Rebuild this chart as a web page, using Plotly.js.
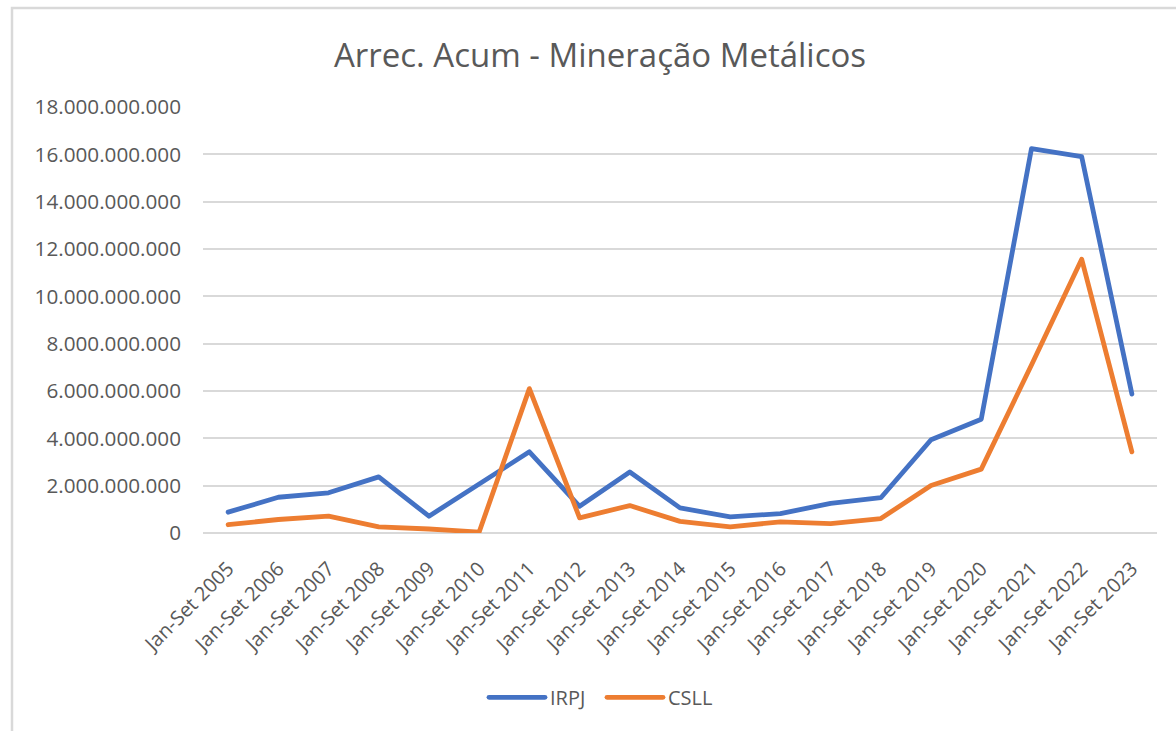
<!DOCTYPE html>
<html>
<head>
<meta charset="utf-8">
<script src="https://cdn.plot.ly/plotly-3.0.1.min.js"></script>
<style>
  html, body { margin: 0; padding: 0; background: #ffffff; }
  #chart { width: 1176px; height: 731px; }
  .scatterlayer path.js-line { stroke-linejoin: round; stroke-linecap: round; }
  .legend .legendlines path { stroke-linecap: round; }
</style>
</head>
<body>
<div id="chart"></div>
<script>
// Data
const categories = [
  "Jan-Set 2005", "Jan-Set 2006", "Jan-Set 2007", "Jan-Set 2008", "Jan-Set 2009",
  "Jan-Set 2010", "Jan-Set 2011", "Jan-Set 2012", "Jan-Set 2013", "Jan-Set 2014",
  "Jan-Set 2015", "Jan-Set 2016", "Jan-Set 2017", "Jan-Set 2018", "Jan-Set 2019",
  "Jan-Set 2020", "Jan-Set 2021", "Jan-Set 2022", "Jan-Set 2023"
];
const irpj = [
  880000000, 1510000000, 1700000000, 2370000000, 710000000,
  2060000000, 3430000000, 1130000000, 2580000000, 1060000000,
  680000000, 820000000, 1250000000, 1490000000, 3940000000,
  4810000000, 16240000000, 15900000000, 5870000000
];
const csll = [
  350000000, 570000000, 710000000, 260000000, 170000000,
  40000000, 6100000000, 640000000, 1160000000, 490000000,
  260000000, 470000000, 400000000, 610000000, 2010000000,
  2700000000, 7100000000, 11570000000, 3430000000
];
const seriesNames = ["IRPJ", "CSLL"];
const yTicks = [0, 2e9, 4e9, 6e9, 8e9, 10e9, 12e9, 14e9, 16e9, 18e9];

const FONT = "Open Sans, Noto Sans, sans-serif";
const GREY = "#595959";

const traces = [
  {
    type: "scatter", mode: "lines", name: seriesNames[0],
    x: categories, y: irpj,
    line: { color: "#4472C4", width: 4.8 },
    hoverinfo: "skip"
  },
  {
    type: "scatter", mode: "lines", name: seriesNames[1],
    x: categories, y: csll,
    line: { color: "#ED7D31", width: 4.8 },
    hoverinfo: "skip"
  }
];

const L = 203, R = 1157, T = 107, B = 533.5;
const px = v => (v - L) / (R - L);
const py = v => (B - v) / (B - T);

const layout = {
  width: 1176, height: 731,
  paper_bgcolor: "#ffffff", plot_bgcolor: "#ffffff",
  margin: { l: L, r: 1176 - R, t: T, b: 731 - B, pad: 0 },
  separators: ",.",
  font: { family: FONT, color: GREY, size: 20 },
  title: {
    text: "Arrec. Acum - Mineração Metálicos",
    font: { family: FONT, size: 33, color: GREY },
    x: 600 / 1176, xanchor: "center", xref: "container",
    y: 1 - 55 / 731, yanchor: "middle", yref: "container"
  },
  showlegend: true,
  legend: {
    orientation: "h",
    x: px(602), xanchor: "center",
    y: py(698), yanchor: "middle",
    font: { family: FONT, size: 20, color: GREY },
    itemwidth: 56,
    entrywidthmode: "pixels", entrywidth: 47,
    bgcolor: "rgba(0,0,0,0)"
  },
  xaxis: {
    type: "category",
    range: [-0.5, categories.length - 0.5],
    tickangle: -45,
    tickfont: { family: FONT, size: 20, color: GREY },
    showgrid: false, showline: false, zeroline: false,
    ticks: "", ticklabelstandoff: 19,
    fixedrange: true
  },
  yaxis: {
    range: [0, 18e9],
    tickvals: yTicks,
    tickformat: ",.0f",
    tickfont: { family: FONT, size: 20.7, color: GREY },
    gridcolor: "#d9d9d9", gridwidth: 2,
    zeroline: true, zerolinecolor: "#d9d9d9", zerolinewidth: 2,
    showline: false, ticks: "", ticklabelstandoff: 21,
    fixedrange: true
  },
  shapes: [
    {
      type: "path", xref: "paper", yref: "paper", layer: "below",
      path: "M " + px(12) + " " + py(740) + " L " + px(12) + " " + py(8) + " L " + px(1190) + " " + py(8),
      line: { color: "#d9d9d9", width: 2.5 }
    }
  ]
};

Plotly.newPlot("chart", traces, layout, { displayModeBar: false, staticPlot: true }).then(function (gd) {
  // lengthen the legend line samples to span the wider item slot (as in the reference)
  gd.querySelectorAll(".legend .legendlines path").forEach(function (p) {
    p.setAttribute("d", "M5,0h56");
  });
});
</script>
</body>
</html>
